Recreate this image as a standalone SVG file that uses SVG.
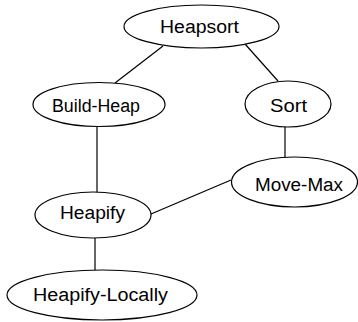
<svg xmlns="http://www.w3.org/2000/svg" width="358" height="322" viewBox="0 0 358 322">
  <style>
    .node ellipse { fill: #ffffff; stroke: #000000; stroke-width: 1.2; }
    .node text { font-family: "Liberation Sans", Arial, sans-serif; font-size: 18px; fill: #000000; }
    #edges line { stroke: #000000; stroke-width: 1.2; }
  </style>
  <rect width="358" height="322" fill="#ffffff"/>

  <!-- call graph edges -->
  <g id="edges">
    <line x1="163" y1="46" x2="115" y2="83"/>
    <line x1="245" y1="44" x2="278" y2="81"/>
    <line x1="97" y1="127" x2="97" y2="193"/>
    <line x1="285" y1="127" x2="285" y2="158"/>
    <line x1="151" y1="214" x2="231" y2="180"/>
    <line x1="95" y1="238" x2="95" y2="270"/>
  </g>

  <g id="heapsort" class="node">
    <ellipse cx="201.5" cy="26.5" rx="77.5" ry="21.5"/>
    <text x="160" y="33" textLength="79" lengthAdjust="spacingAndGlyphs">Heapsort</text>
  </g>

  <g id="build-heap" class="node">
    <ellipse cx="99" cy="104.5" rx="66" ry="22"/>
    <text x="52" y="112" textLength="88" lengthAdjust="spacingAndGlyphs">Build-Heap</text>
  </g>

  <g id="sort" class="node">
    <ellipse cx="288" cy="104" rx="43" ry="23"/>
    <text x="270" y="112" textLength="37" lengthAdjust="spacingAndGlyphs">Sort</text>
  </g>

  <g id="move-max" class="node">
    <ellipse cx="294.5" cy="182" rx="63" ry="25"/>
    <text x="255" y="191" textLength="88" lengthAdjust="spacingAndGlyphs">Move-Max</text>
  </g>

  <g id="heapify" class="node">
    <ellipse cx="93" cy="215" rx="58" ry="23"/>
    <text x="60" y="219" textLength="65" lengthAdjust="spacingAndGlyphs">Heapify</text>
  </g>

  <g id="heapify-locally" class="node">
    <ellipse cx="102" cy="295" rx="95" ry="25"/>
    <text x="33" y="301" textLength="135" lengthAdjust="spacingAndGlyphs">Heapify-Locally</text>
  </g>
</svg>
